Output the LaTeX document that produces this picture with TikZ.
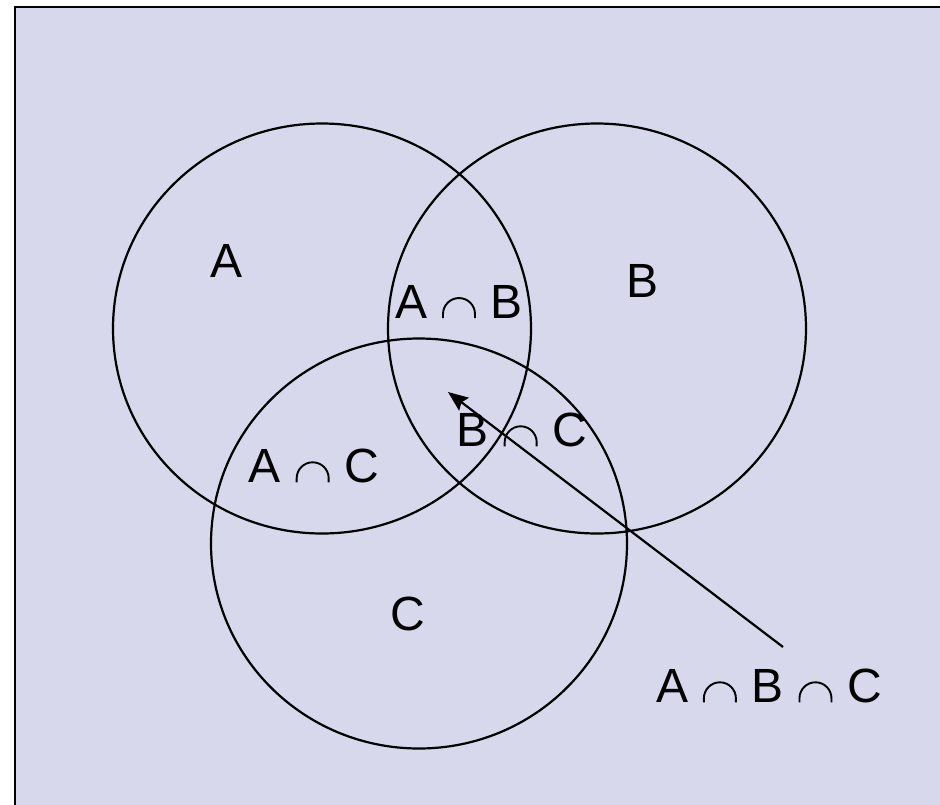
\documentclass[tikz,border=0pt]{standalone}
\usepackage{fontspec}
\setmainfont{Liberation Sans}
\usetikzlibrary{arrows.meta}
\definecolor{lav}{RGB}{215,216,236}
\newcommand{\isect}{\hspace{1.5pt}\tikz[x=1pt,y=1pt,baseline=0pt]\draw[line width=1.9pt,line cap=butt] (0,0) -- (0,4) arc[start angle=180,end angle=0,radius=16] -- (32,0);\hspace{1.5pt}}
\tikzset{
  lbl/.style={font=\fontsize{48}{58}\selectfont, inner sep=0pt, anchor=center},
  ring/.style={draw=black, line width=2.2pt},
  pointer/.style={draw=black, line width=2.2pt, -{Stealth[length=20pt,width=16pt,inset=3pt]}}
}
\begin{document}
\begin{tikzpicture}[x=1pt,y=-1pt]
\useasboundingbox (0,0) rectangle (940,804);
\clip (0,0) rectangle (940,804);
\fill[white] (0,0) rectangle (940,804);
\filldraw[fill=lav, draw=black, line width=2.6pt] (15,7) rectangle (980,840);
\draw[ring] (322,328.5) ellipse [x radius=209, y radius=205];
\draw[ring] (597,328.5) ellipse [x radius=209, y radius=205];
\draw[ring] (419,543.5) ellipse [x radius=208, y radius=205];
\node[lbl] (a) at (227,261) {A};
\node[lbl] (b) at (643,281) {B};
\node[lbl] (ab) at (459,302) {A \isect{} B};
\node[lbl] (bc) at (522,430) {B \isect{} C};
\node[lbl] (ac) at (314,466) {A \isect{} C};
\node[lbl] (c) at (408,614) {C};
\node[lbl] (abc) at (769,686) {A \isect{} B \isect{} C};
\coordinate (tail) at (783,647);
\coordinate (tip) at (448,392);
\draw[pointer] (tail) -- (tip);
\end{tikzpicture}
\end{document}
